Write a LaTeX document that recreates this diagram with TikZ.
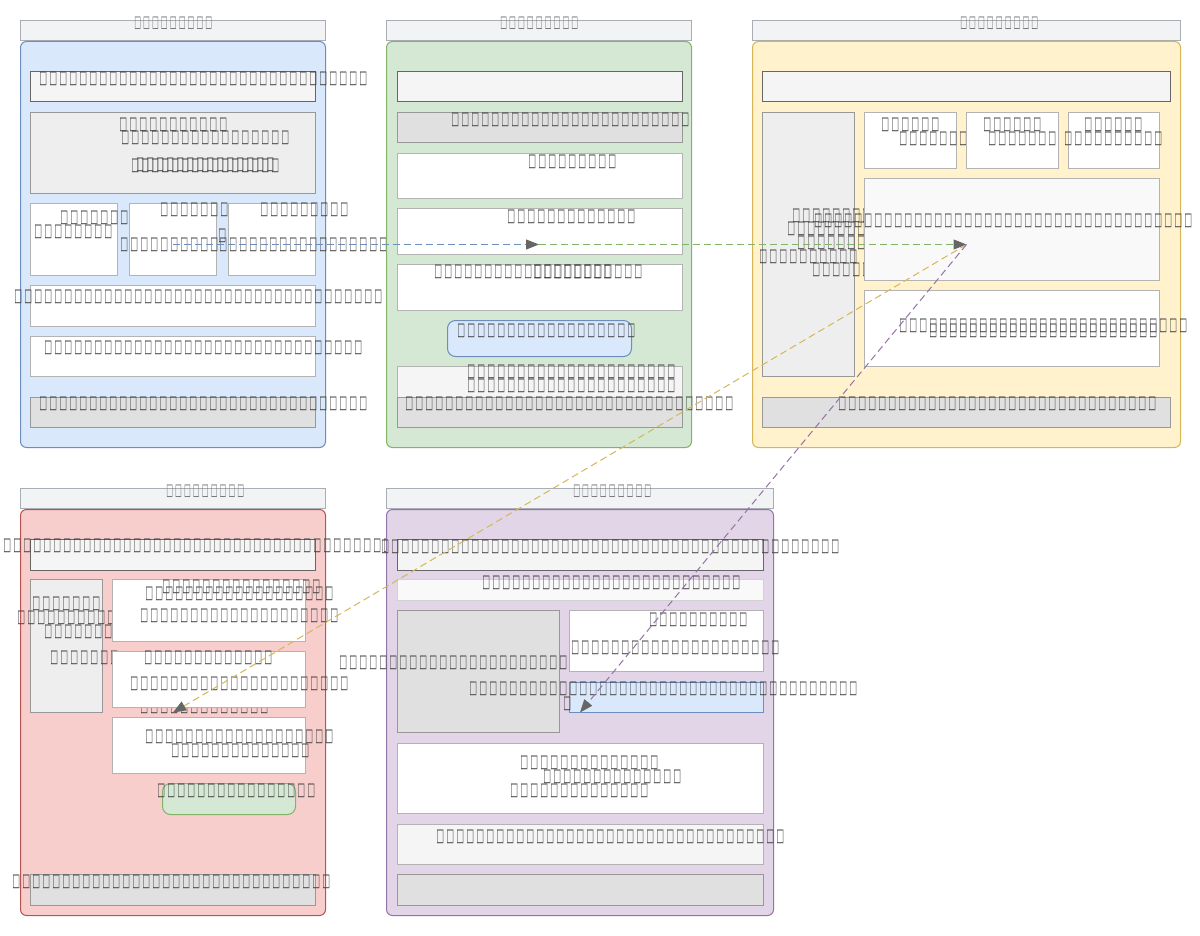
\documentclass[tikz,border=0pt]{standalone}
\usepackage{fontspec}
\usepackage{graphicx}
\newfontfamily\tofufont{DejaVu Sans}
\usetikzlibrary{arrows.meta}

\definecolor{bluefill}{HTML}{DAE8FC}\definecolor{blueline}{HTML}{6C8EBF}
\definecolor{greenfill}{HTML}{D5E8D4}\definecolor{greenline}{HTML}{82B366}
\definecolor{yellowfill}{HTML}{FFF2CC}\definecolor{yellowline}{HTML}{D6B656}
\definecolor{redfill}{HTML}{F8CECC}\definecolor{redline}{HTML}{B85450}
\definecolor{purplefill}{HTML}{E1D5E7}\definecolor{purpleline}{HTML}{9673A6}
\definecolor{hdrfill}{HTML}{F2F3F5}\definecolor{hdrline}{HTML}{A9ADB5}
\definecolor{lightfill}{HTML}{F5F5F5}\definecolor{darkline}{HTML}{666666}
\definecolor{grayfill}{HTML}{EEEEEE}\definecolor{midfill}{HTML}{E0E0E0}
\definecolor{palefill}{HTML}{F9F9F9}\definecolor{boxline}{HTML}{B3B3B3}
\definecolor{txtc}{HTML}{444444}\definecolor{ttlc}{HTML}{707070}
\definecolor{tipc}{HTML}{666666}

% one missing-glyph box per character
\newcommand\tg[2]{\resizebox{#1}{#2}{□}}
\newcommand\tf[1]{\foreach\k in {1,...,#1}{\makebox[10pt]{\tg{7.8pt}{11.5pt}}}}
\newcommand\tft[1]{\foreach\k in {1,...,#1}{\makebox[8.9pt]{\tg{6.8pt}{10.5pt}}}}

\tikzset{
  panel/.style={draw, rounded corners=6pt, line width=1pt},
  hdr/.style={draw=hdrline, fill=hdrfill, line width=1pt},
  box/.style={draw=boxline, fill=white, line width=1pt},
  dark/.style={box, draw=darkline, fill=lightfill},
  grey/.style={box, draw=boxline!85!black, fill=grayfill},
  mid/.style={box, draw=boxline!85!black, fill=midfill},
  spot/.style n args={4}{at={(#1,#2)}, anchor=north west, inner sep=0pt,
    minimum width={#3-#1}, minimum height={#4-#2}},
  tx/.style={anchor=west, inner sep=0pt, text=txtc, font=\tofufont\bfseries},
  ttl/.style={anchor=west, inner sep=0pt, text=ttlc, font=\tofufont},
  flow/.style={line width=1pt, dash pattern=on 7pt off 4pt,
    -{Triangle[length=13pt, width=10pt, color=tipc]}}
}

\begin{document}
\begin{tikzpicture}[x=1pt, y=-1pt]
  \useasboundingbox (0,0) rectangle (1200,936);

  % panel 1
  \node[hdr, spot={20}{20}{325}{40}] (h1) {};
  \node[ttl] (h1t) at (133,23) {\tft{9}};
  \node[panel, draw=blueline, fill=bluefill, spot={20}{41}{325}{447}] (p1) {};
  \node[dark, spot={30}{71}{315}{101}] (a1) {};
  \node[tx] (a1t) at (38,79) {\tf{33}};
  \node[grey, spot={30}{112}{315}{193}] (a2) {};
  \node[tx] (a2t) at (118,125) {\tf{11}};
  \node[tx] (a2u) at (120,138) {\tf{17}};
  \node[tx] (a2v) at (130,166) {\tf{15}};
  \node[tx] (a2w) at (135,165) {\tf{14}};
  \node[box, spot={30}{203}{117}{275}] (a3) {};
  \node[tx] (a3t) at (59,218) {\tf{7}};
  \node[tx] (a3u) at (33,232) {\tf{8}};
  \node[box, spot={129}{203}{216}{275}] (a4) {};
  \node[tx] (a4t) at (159,210) {\tf{7}};
  \node[tx] (a4u) at (217,236) {\tf{1}};
  \node[tx] (a4v) at (119,245) {\tf{10}};
  \node[box, spot={228}{203}{315}{275}] (a5) {};
  \node[tx] (a5t) at (259,210) {\tf{9}};
  \node[tx] (a5u) at (218,245) {\tf{17}};
  \node[box, spot={30}{285}{315}{326}] (a6) {};
  \node[tx] (a6t) at (13,297) {\tf{37}};
  \node[box, spot={30}{336}{315}{376}] (a7) {};
  \node[tx] (a7t) at (43,348) {\tf{32}};
  \node[mid, spot={30}{397}{315}{427}] (a8) {};
  \node[tx] (a8t) at (38,404) {\tf{33}};

  % panel 2
  \node[hdr, spot={386}{20}{691}{40}] (h2) {};
  \node[ttl] (h2t) at (499,23) {\tft{9}};
  \node[panel, draw=greenline, fill=greenfill, spot={386}{41}{691}{447}] (p2) {};
  \node[dark, spot={397}{71}{682}{101}] (g1) {};
  \node[mid, spot={397}{112}{682}{142}] (g2) {};
  \node[tx] (g2t) at (450,120) {\tf{24}};
  \node[box, spot={397}{153}{682}{198}] (g3) {};
  \node[tx] (g3t) at (527,162) {\tf{9}};
  \node[box, spot={397}{208}{682}{254}] (g4) {};
  \node[tx] (g4t) at (506,217) {\tf{13}};
  \node[box, spot={397}{264}{682}{310}] (g5) {};
  \node[tx] (g5t) at (433,272) {\tf{21}};
  \node[tx] (g5u) at (532,272) {\tf{8}};
  \node[box, draw=blueline, fill=bluefill, rounded corners=8pt, spot={447}{320}{631}{356}] (g6) {};
  \node[tx] (g6t) at (456,331) {\tf{18}};
  \node[box, fill=lightfill, spot={397}{366}{682}{410}] (g7) {};
  \node[tx] (g7t) at (466,372) {\tf{21}};
  \node[tx] (g7u) at (466,386) {\tf{21}};
  \node[mid, spot={397}{397}{682}{427}] (g8) {};
  \node[tx] (g8t) at (404,404) {\tf{33}};

  % panel 3
  \node[hdr, spot={752}{20}{1180}{40}] (h3) {};
  \node[ttl] (h3t) at (959,23) {\tft{9}};
  \node[panel, draw=yellowline, fill=yellowfill, spot={752}{41}{1180}{447}] (p3) {};
  \node[dark, spot={762}{71}{1170}{101}] (y1) {};
  \node[grey, spot={762}{112}{854}{376}] (y2) {};
  \node[tx] (y2t) at (791,216) {\tf{8}};
  \node[tx] (y2u) at (786,229) {\tf{8}};
  \node[tx] (y2v) at (796,243) {\tf{7}};
  \node[tx] (y2w) at (758,257) {\tf{10}};
  \node[tx] (y2x) at (811,270) {\tf{6}};
  \node[box, spot={864}{112}{956}{168}] (y3) {};
  \node[tx] (y3t) at (880,125) {\tf{6}};
  \node[tx] (y3u) at (898,139) {\tf{7}};
  \node[box, spot={966}{112}{1058}{168}] (y4) {};
  \node[tx] (y4t) at (982,125) {\tf{6}};
  \node[tx] (y4u) at (987,139) {\tf{7}};
  \node[box, spot={1068}{112}{1159}{168}] (y5) {};
  \node[tx] (y5t) at (1083,125) {\tf{6}};
  \node[tx] (y5u) at (1063,139) {\tf{10}};
  \node[box, fill=palefill, spot={864}{178}{1159}{280}] (y6) {};
  \node[tx] (y6t) at (813,221) {\tf{38}};
  \node[box, spot={864}{290}{1159}{366}] (y7) {};
  \node[tx] (y7t) at (898,326) {\tf{29}};
  \node[tx] (y7u) at (928,331) {\tf{23}};
  \node[mid, spot={762}{397}{1170}{427}] (y8) {};
  \node[tx] (y8t) at (837,404) {\tf{32}};

  % panel 4
  \node[hdr, spot={20}{488}{325}{508}] (h4) {};
  \node[ttl] (h4t) at (165,491) {\tft{9}};
  \node[panel, draw=redline, fill=redfill, spot={20}{509}{325}{915}] (p4) {};
  \node[dark, spot={30}{539}{315}{570}] (r1) {};
  \node[tx] (r1t) at (2,546) {\tf{39}};
  \node[grey, spot={30}{579}{102}{712}] (r2) {};
  \node[tx] (r2t) at (31,604) {\tf{7}};
  \node[tx] (r2u) at (16,618) {\tf{10}};
  \node[tx] (r2v) at (43,632) {\tf{7}};
  \node[tx] (r2w) at (49,658) {\tf{7}};
  \node[box, spot={112}{579}{305}{641}] (r3) {};
  \node[tx] (r3t) at (161,587) {\tf{16}};
  \node[tx] (r3u) at (144,594) {\tf{19}};
  \node[tx] (r3v) at (139,616) {\tf{20}};
  \node[tx] (r3w) at (139,707) {\tf{13}};
  \node[box, spot={112}{651}{305}{707}] (r4) {};
  \node[tx] (r4t) at (143,658) {\tf{13}};
  \node[tx] (r4u) at (129,684) {\tf{22}};
  \node[box, spot={112}{717}{305}{773}] (r5) {};
  \node[tx] (r5t) at (144,737) {\tf{19}};
  \node[tx] (r5u) at (170,751) {\tf{14}};
  \node[box, draw=greenline, fill=greenfill, rounded corners=8pt, spot={162}{783}{295}{814}] (r6) {};
  \node[tx] (r6t) at (156,791) {\tf{16}};
  \node[mid, spot={30}{874}{315}{905}] (r7) {};
  \node[tx] (r7t) at (11,882) {\tf{32}};

  % panel 5
  \node[hdr, spot={386}{488}{773}{508}] (h5) {};
  \node[ttl] (h5t) at (572,491) {\tft{9}};
  \node[panel, draw=purpleline, fill=purplefill, spot={386}{509}{773}{915}] (p5) {};
  \node[dark, spot={397}{539}{763}{570}] (v1) {};
  \node[tx] (v1t) at (380,547) {\tf{46}};
  \node[box, draw=boxline!60, fill=palefill, spot={397}{579}{763}{600}] (v2) {};
  \node[tx] (v2t) at (481,583) {\tf{26}};
  \node[mid, spot={397}{610}{559}{732}] (v3) {};
  \node[tx] (v3t) at (338,663) {\tf{23}};
  \node[box, spot={569}{610}{763}{671}] (v4) {};
  \node[tx] (v4t) at (648,620) {\tf{10}};
  \node[tx] (v4u) at (570,648) {\tf{21}};
  \node[box, draw=blueline, fill=bluefill, spot={569}{682}{763}{712}] (v5) {};
  \node[tx] (v5t) at (468,689) {\tf{39}};
  \node[tx] (v5u) at (562,704) {\tf{1}};
  \node[box, spot={397}{743}{763}{813}] (v6) {};
  \node[tx] (v6t) at (519,763) {\tf{14}};
  \node[tx] (v6u) at (542,777) {\tf{14}};
  \node[tx] (v6v) at (509,791) {\tf{14}};
  \node[box, fill=lightfill, spot={397}{824}{763}{864}] (v7) {};
  \node[tx] (v7t) at (435,837) {\tf{35}};
  \node[mid, spot={397}{874}{763}{905}] (v8) {};

  % edges
  \draw[flow, draw=blueline] (p1.center) -- (p2.center);
  \draw[flow, draw=greenline] (p2.center) -- (p3.center);
  \draw[flow, draw=yellowline] (p3.center) -- (p4.center);
  \draw[flow, draw=purpleline] (p3.center) -- (p5.center);
\end{tikzpicture}
\end{document}
